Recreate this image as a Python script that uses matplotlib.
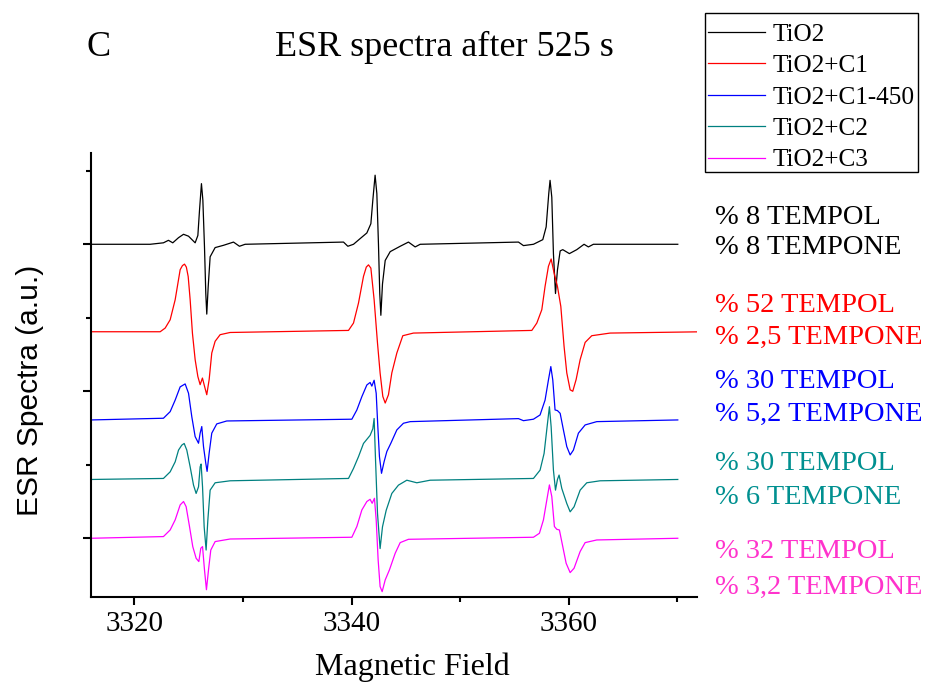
import matplotlib
matplotlib.use("Agg")
import matplotlib.pyplot as plt
from matplotlib.patches import Rectangle

# field (G), intensity relative to each trace's own baseline (1 unit = one y tick step)
tio2 = [
    (3316.0, 0), (3321.45, 0), (3322.67, 0.02), (3323.13, 0.054), (3323.53, 0.02),
    (3324.06, 0.09), (3324.52, 0.136), (3324.98, 0.11), (3325.59, 0.02), (3325.84, 0.12),
    (3325.99, 0.46), (3326.17, 0.825), (3326.30, 0.6), (3326.45, -0.036), (3326.57, -0.67),
    (3326.66, -0.95), (3326.79, -0.58), (3326.97, -0.17), (3327.43, -0.045), (3328.2, -0.014),
    (3329.12, 0.03), (3329.67, -0.027), (3330.19, 0), (3339.25, 0.03), (3339.65, -0.027),
    (3340.17, 0), (3340.78, 0.077), (3341.40, 0.154), (3341.77, 0.28), (3341.95, 0.6),
    (3342.16, 0.94), (3342.32, 0.69), (3342.47, 0), (3342.59, -0.67), (3342.69, -0.966),
    (3342.84, -0.54), (3343.09, -0.22), (3343.55, -0.10), (3344.47, -0.027), (3345.23, 0.03),
    (3345.85, -0.036), (3346.31, 0), (3355.36, 0.03), (3355.82, -0.018), (3356.74, 0),
    (3357.6, 0.063), (3357.91, 0.236), (3358.15, 0.69), (3358.27, 0.87), (3358.43, 0.64),
    (3358.58, -0.127), (3358.77, -0.67), (3358.95, -0.35), (3359.2, -0.09), (3359.44, -0.073),
    (3360.05, -0.127), (3360.73, -0.073), (3361.4, 0), (3361.8, -0.036), (3362.26, 0),
    (3370.03, 0),
]
tio2_c1 = [
    (3316.0, 0), (3322.37, 0), (3322.83, 0.05), (3323.29, 0.163), (3323.75, 0.435),
    (3324.21, 0.844), (3324.42, 0.9), (3324.61, 0.92), (3324.78, 0.88), (3324.95, 0.75),
    (3325.13, 0.435), (3325.34, -0.02), (3325.59, -0.38), (3325.84, -0.61), (3326.05, -0.72),
    (3326.26, -0.63), (3326.45, -0.74), (3326.66, -0.857), (3326.88, -0.65), (3327.12, -0.29),
    (3327.43, -0.13), (3327.89, -0.04), (3328.81, -0.01), (3339.71, 0.018), (3340.17, 0.118),
    (3340.63, 0.39), (3341.09, 0.753), (3341.35, 0.88), (3341.55, 0.91), (3341.77, 0.866),
    (3342.07, 0.435), (3342.38, -0.154), (3342.62, -0.56), (3342.87, -0.88), (3343.09, -0.97),
    (3343.39, -0.857), (3343.7, -0.56), (3344.16, -0.29), (3344.71, -0.054), (3345.69, -0.018),
    (3356.59, 0.018), (3357.05, 0.118), (3357.51, 0.3), (3357.81, 0.617), (3358.12, 0.89),
    (3358.37, 0.99), (3358.64, 0.8), (3358.95, 0.617), (3359.26, 0.345), (3359.56, -0.2),
    (3359.81, -0.56), (3360.12, -0.79), (3360.36, -0.81), (3360.67, -0.65), (3361.04, -0.38),
    (3361.5, -0.145), (3362.11, -0.054), (3363.8, -0.018), (3372.5, 0),
]
tio2_c1_450 = [
    (3316.0, 0), (3322.67, 0.023), (3323.29, 0.113), (3323.75, 0.27), (3324.21, 0.45),
    (3324.67, 0.49), (3324.98, 0.363), (3325.28, 0.045), (3325.59, -0.227), (3325.9, -0.317),
    (3326.05, -0.18), (3326.2, -0.09), (3326.36, -0.363), (3326.57, -0.59), (3326.69, -0.70),
    (3326.88, -0.45), (3327.12, -0.18), (3327.58, -0.054), (3328.5, -0.014), (3340.02, 0.01),
    (3340.48, 0.136), (3340.94, 0.317), (3341.40, 0.476), (3341.7, 0.51), (3341.86, 0.46),
    (3342.07, 0.54), (3342.26, 0.363), (3342.41, -0.09), (3342.56, -0.5), (3342.75, -0.726),
    (3342.99, -0.567), (3343.24, -0.43), (3343.61, -0.317), (3344.16, -0.136), (3344.77, -0.045),
    (3345.39, -0.023), (3355.36, 0.018), (3355.82, -0.01), (3356.74, 0.01), (3357.35, 0.068),
    (3357.81, 0.27), (3358.12, 0.544), (3358.34, 0.726), (3358.52, 0.544), (3358.73, 0.136),
    (3358.95, 0.127), (3359.2, 0.09), (3359.5, -0.136), (3359.81, -0.363), (3360.12, -0.476),
    (3360.42, -0.41), (3360.88, -0.18), (3361.5, -0.068), (3362.57, -0.023), (3370.03, 0),
]
tio2_c2 = [
    (3316.0, 0), (3322.67, 0.014), (3323.29, 0.104), (3323.75, 0.24), (3324.06, 0.4),
    (3324.36, 0.467), (3324.58, 0.49), (3324.82, 0.4), (3325.13, 0.172), (3325.44, -0.077),
    (3325.68, -0.19), (3325.9, -0.1), (3326.05, 0.172), (3326.14, 0.21), (3326.27, -0.1),
    (3326.42, -0.644), (3326.6, -0.96), (3326.76, -0.55), (3326.97, -0.145), (3327.43, -0.045),
    (3328.81, -0.018), (3339.71, 0.014), (3340.17, 0.15), (3340.63, 0.31), (3341.09, 0.49),
    (3341.7, 0.6), (3341.95, 0.69), (3342.07, 0.83), (3342.2, 0.263), (3342.38, -0.46),
    (3342.62, -0.94), (3342.84, -0.644), (3343.18, -0.42), (3343.7, -0.19), (3344.31, -0.077),
    (3345.08, -0.01), (3346.0, -0.045), (3347.23, -0.01), (3356.74, 0.014), (3357.35, 0.127),
    (3357.72, 0.354), (3358.03, 0.76), (3358.21, 0.99), (3358.37, 0.717), (3358.58, 0.127),
    (3358.77, -0.145), (3358.95, 0), (3359.1, 0.06), (3359.35, -0.122), (3359.81, -0.327),
    (3360.12, -0.44), (3360.48, -0.372), (3361.04, -0.145), (3361.65, -0.045), (3362.88, -0.018),
    (3370.03, 0),
]
tio2_c3 = [
    (3316.0, 0), (3322.67, 0.023), (3323.29, 0.113), (3323.75, 0.25), (3324.21, 0.454),
    (3324.52, 0.5), (3324.76, 0.43), (3325.07, 0.16), (3325.37, -0.113), (3325.68, -0.272),
    (3325.93, -0.317), (3326.11, -0.136), (3326.27, -0.113), (3326.45, -0.43), (3326.63, -0.70),
    (3326.82, -0.43), (3327.03, -0.16), (3327.43, -0.045), (3328.81, -0.01), (3340.02, 0.014),
    (3340.48, 0.16), (3340.94, 0.385), (3341.40, 0.5), (3341.7, 0.53), (3341.89, 0.476),
    (3342.1, 0.544), (3342.26, 0.25), (3342.44, -0.295), (3342.62, -0.657), (3342.81, -0.726),
    (3343.09, -0.567), (3343.48, -0.43), (3344.01, -0.204), (3344.47, -0.059), (3345.23, -0.014),
    (3356.74, 0.014), (3357.29, 0.068), (3357.66, 0.25), (3357.97, 0.52), (3358.21, 0.726),
    (3358.43, 0.567), (3358.67, 0.16), (3358.89, 0.122), (3359.13, 0.113), (3359.44, -0.113),
    (3359.75, -0.34), (3360.12, -0.467), (3360.48, -0.408), (3361.04, -0.18), (3361.5, -0.059),
    (3362.57, -0.023), (3370.03, 0),
]

spectra = [tio2, tio2_c1, tio2_c1_450, tio2_c2, tio2_c3]
labels = ["TiO2", "TiO2+C1", "TiO2+C1-450", "TiO2+C2", "TiO2+C3"]
offsets = [4.0, 2.81, 1.61, 0.80, 0.0]
colors = ["black", "red", "blue", "#008080", "magenta"]
text_colors = ["black", "red", "blue", "#009090", "#ff33cc"]
tempol = ["% 8 TEMPOL", "% 52 TEMPOL", "% 30 TEMPOL", "% 30 TEMPOL", "% 32 TEMPOL"]
tempone = ["% 8 TEMPONE", "% 2,5 TEMPONE", "% 5,2 TEMPONE", "% 6 TEMPONE", "% 3,2 TEMPONE"]

serif = "Liberation Serif"
W, H = 927, 686

fig = plt.figure(figsize=(9.27, 6.86), dpi=100)
ax = fig.add_axes([91 / W, 1 - 596.7 / H, (697 - 91) / W, (596.7 - 153) / H])

for pts, lab, off, col in zip(spectra, labels, offsets, colors):
    x = [p[0] for p in pts]
    y = [p[1] + off for p in pts]
    ax.plot(x, y, color=col, lw=0.9, label=lab)

ax.set_xlim(3316.0, 3371.8)
ax.set_ylim(-0.795, 5.242)
ax.spines["top"].set_visible(False)
ax.spines["right"].set_visible(False)
ax.spines["left"].set_linewidth(1.5)
ax.spines["bottom"].set_linewidth(1.5)

ax.set_xticks([3320, 3340, 3360])
ax.set_xticks([3330, 3350, 3370], minor=True)
ax.set_yticks([0, 2, 4])
ax.set_yticks([1, 3, 5], minor=True)
ax.set_yticklabels([])
ax.tick_params(which="major", length=6, width=1.5, direction="out")
ax.tick_params(which="minor", length=3.5, width=1.5, direction="out")
for lbl in ax.get_xticklabels():
    lbl.set_fontfamily(serif)
    lbl.set_fontsize(21)
ax.tick_params(axis="x", pad=4)

ax.set_xlabel("Magnetic Field", fontfamily=serif, fontsize=23)
ax.xaxis.set_label_coords((412 - 91) / 606, (596.7 - 667) / 443.7)
ax.xaxis.label.set_va("center")
ax.set_ylabel("ESR Spectra (a.u.)", fontfamily="Liberation Sans", fontsize=21.5)
ax.yaxis.set_label_coords((30 - 91) / 606, (596.7 - 390) / 443.7)
ax.yaxis.label.set_va("center")

fig.text(99 / W, 1 - 47 / H, "C", fontfamily=serif, fontsize=26, ha="center", va="center")
fig.text(444 / W, 1 - 47 / H, "ESR spectra after 525 s", fontfamily=serif, fontsize=26,
         ha="center", va="center")

# composition notes on the right
note_y = [(217, 248), (305, 337), (381, 414), (464, 497), (551, 587)]
for (y1, y2), t1, t2, col in zip(note_y, tempol, tempone, text_colors):
    fig.text(715 / W, 1 - y1 / H, t1, color=col, fontfamily=serif, fontsize=20.5, va="center")
    fig.text(715 / W, 1 - y2 / H, t2, color=col, fontfamily=serif, fontsize=20.5, va="center")

# legend without its own frame, boxed separately
fig.legend(loc="upper left", bbox_to_anchor=(708 / W, 1 - 23 / H), borderaxespad=0,
           prop={"family": serif, "size": 18.2}, frameon=False, handlelength=2.25,
           handletextpad=0.3, labelspacing=0.345, borderpad=0)
fig.patches.append(Rectangle((705 / W, 1 - 172 / H), 213 / W, 159 / H, transform=fig.transFigure,
                             fill=False, edgecolor="black", lw=1.0))

plt.savefig("out.png", dpi=100)
plt.close()
